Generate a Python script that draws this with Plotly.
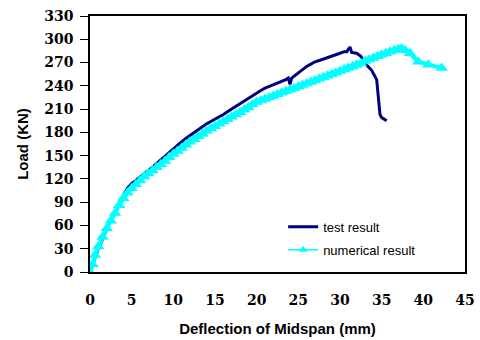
import plotly.graph_objects as go

# Test result (dark navy line)
test_x = [0, 0.3, 0.6, 1.0, 1.5, 2.0, 2.5, 3.0, 3.5, 4.0, 4.5, 5.0, 5.5, 6.0, 6.5, 7.0, 7.5,
          8.0, 8.5, 9.0, 9.5, 10.0, 10.8, 11.5, 12.0, 12.5, 13.0, 13.5, 14.0, 14.5, 15.0, 15.6,
          16.0, 17.0, 18.0, 19.0, 19.8, 20.5, 21.0, 22.0, 22.8, 23.5, 23.8, 24.0, 24.2, 25.0,
          25.5, 26.0, 26.5, 27.0, 27.6, 28.5, 29.0, 30.0, 30.5, 30.8, 31.2, 31.4, 32.0, 32.5,
          33.0, 33.8, 34.4, 34.6, 34.8, 35.0, 35.4, 35.6]
test_y = [0, 8, 18, 30, 43, 55, 66, 77, 89, 99, 108, 114, 118, 122, 127, 131, 135,
          140, 144, 149, 154, 159, 166, 172, 176, 180, 184, 187, 191, 194, 197, 200,
          203, 210, 217, 224, 230, 234, 237, 241, 245, 248, 250, 242, 250, 257,
          261, 265, 268, 271, 273, 276, 278, 282, 284, 284, 290, 283, 282, 278,
          269, 260, 248, 225, 203, 199, 196, 195]

# Numerical result (cyan line with triangle markers)
num_x = [0, 0.3, 0.6, 1.0, 1.5, 2.0, 2.5, 3.0, 3.5, 4.0, 4.5, 5.0, 5.5, 6.0, 6.5, 7.0, 7.5,
         8.0, 8.5, 9.0, 9.5, 10.0, 10.5, 11.0, 11.5, 12.0, 12.5, 13.0, 13.5, 14.0, 14.5, 15.0,
         15.5, 16.0, 16.5, 17.0, 17.5, 18.0, 18.5, 19.0, 19.5, 20.0, 20.5, 21.0, 21.5, 22.0,
         22.5, 23.0, 23.5, 24.0, 24.5, 25.0, 25.5, 26.0, 26.5, 27.0, 27.5, 28.0, 28.5, 29.0,
         29.5, 30.0, 30.5, 31.0, 31.5, 32.0, 32.5, 33.0, 33.5, 34.0, 34.5, 35.0, 35.5, 36.0,
         36.5, 37.0, 37.4, 37.8, 38.4, 39.4, 40.6, 42.2]
num_y = [0, 10, 22, 33, 45, 56, 66, 76, 86, 95, 102, 108, 113, 118, 123, 127, 131,
         135, 139, 143, 148, 152, 156, 160, 164, 168, 171, 175, 178, 182, 185, 188,
         191, 194, 197, 200, 203, 206, 209, 212, 216, 219, 221, 223, 225, 227,
         229, 231, 233, 235, 237, 239, 241, 243, 245, 247, 249, 251, 253, 255,
         257, 259, 261, 263, 265, 267, 269, 272, 274, 276, 278, 280, 282, 284,
         286, 287, 288, 286, 282, 271, 267, 263]

x_ticks = [0, 5, 10, 15, 20, 25, 30, 35, 40, 45]
y_ticks = [0, 30, 60, 90, 120, 150, 180, 210, 240, 270, 300, 330]

fig = go.Figure()
fig.add_trace(go.Scatter(
    x=test_x, y=test_y, mode="lines", name="test result",
    line=dict(color="#000080", width=3), legendgroup="a"))
fig.add_trace(go.Scatter(
    x=num_x, y=num_y, mode="lines+markers", name="numerical result",
    line=dict(color="#00FFFF", width=4),
    marker=dict(symbol="triangle-up", size=11, color="#00FFFF"),
    legendgroup="b", showlegend=False))
# legend entry for the numerical result with thinner styling (as in the reference key)
fig.add_trace(go.Scatter(
    x=[None], y=[None], mode="lines+markers", name="numerical result",
    line=dict(color="#00FFFF", width=1.5),
    marker=dict(symbol="triangle-up", size=8, color="#00FFFF"),
    legendgroup="b", showlegend=True))

tickfont = dict(family="DejaVu Serif", size=14, color="black", weight="bold")
titlefont = dict(family="Liberation Sans", size=15, color="black", weight="bold")

fig.update_layout(
    width=480, height=340,
    margin=dict(l=90, r=15, t=16, b=68),
    paper_bgcolor="white", plot_bgcolor="white",
    showlegend=True,
    legend=dict(x=0.515, y=0.235, xanchor="left", yanchor="top",
                bgcolor="rgba(0,0,0,0)", font=dict(family="Liberation Sans", size=13, color="black"),
                traceorder="grouped", tracegroupgap=3),
    xaxis=dict(range=[0, 45], tickvals=x_ticks, ticktext=[str(v) for v in x_ticks],
               showgrid=False, zeroline=False, showline=True, linecolor="black", linewidth=1.5,
               mirror=True, ticks="", ticklabelstandoff=14, tickfont=tickfont, automargin=False,
               title=dict(text="Deflection of Midspan (mm)", font=titlefont, standoff=17)),
    yaxis=dict(range=[0, 330], tickvals=y_ticks, ticktext=[str(v) for v in y_ticks],
               showgrid=False, zeroline=False, showline=True, linecolor="black", linewidth=1.5,
               mirror=True, ticks="outside", ticklen=8, tickcolor="black", ticklabelstandoff=4,
               tickfont=tickfont, automargin=False,
               title=dict(text="Load (KN)", font=titlefont, standoff=12)),
)

fig.write_html("out.html")
